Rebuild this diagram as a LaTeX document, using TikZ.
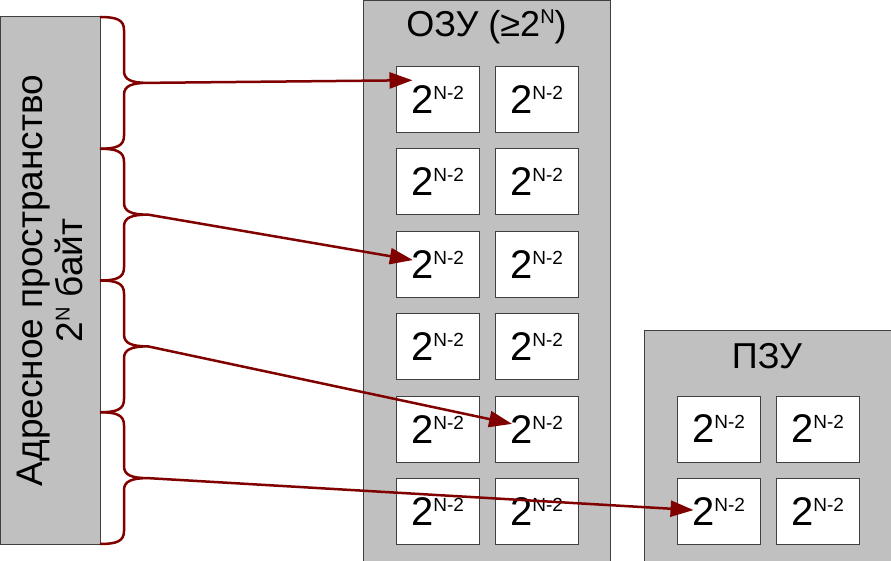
\documentclass[tikz,border=0pt]{standalone}
\usepackage{fontspec}
\setmainfont{Liberation Sans}
\usetikzlibrary{arrows.meta}

\definecolor{boxgray}{RGB}{192,192,192}
\definecolor{edgegray}{RGB}{64,64,64}
\definecolor{darkred}{RGB}{128,0,0}

% raised index: raise, size, text
\newcommand\upidx[3]{\raisebox{#1}{\fontsize{#2}{#2}\selectfont #3}}
\newcommand\blk{2\upidx{14pt}{19pt}{N-2}}

\tikzset{
  cell/.style={draw=edgegray, fill=white, line width=1pt, minimum width=83pt,
    minimum height=66pt, inner sep=0pt, font=\fontsize{40pt}{40pt}\selectfont},
  title/.style={font=\fontsize{36pt}{40pt}\selectfont, inner sep=0pt},
  store/.style={fill=boxgray, draw=edgegray, line width=1pt},
  brace/.style={darkred, line width=2.5pt},
  link/.style={darkred, line width=2.5pt, -{Triangle[length=23pt,width=16pt]},
    shorten >=25pt},
}

\begin{document}
\begin{tikzpicture}[x=1pt,y=-1pt]
\clip (0,0) rectangle (891,561);
% address space
\filldraw[store] (0,17) rectangle (100,544);
\node[rotate=90, align=center, font=\fontsize{37pt}{40pt}\selectfont] (space) at (50,280.5)
  {Адресное пространство\\2\upidx{13pt}{20pt}{N} байт};
% braces, one per quarter
\foreach \t/\n in {17/1,148.75/2,280.5/3,412.25/4} {
  \draw[brace] (100,\t) .. controls (117,\t) and (124,\t+3) .. (124,\t+13)
    -- (124,\t+54) .. controls (124,\t+63) and (132,\t+65.875) .. (148,\t+65.875)
    .. controls (132,\t+65.875) and (124,\t+68.75) .. (124,\t+77.75)
    -- (124,\t+118.75) .. controls (124,\t+128.75) and (117,\t+131.75) .. (100,\t+131.75);
  \coordinate (tip\n) at (148,\t+65.875);
}
% RAM
\filldraw[store] (363,1) rectangle (610,570);
\node[title] (ramtitle) at (486.5,27) {ОЗУ (≥2\upidx{13pt}{20pt}{N})};
\foreach \r in {1,...,6}
  \foreach \c in {1,2}
    \node[cell] (ram\r\c) at (338.5+99*\c,17.1+82.4*\r) {\blk};
% ROM
\filldraw[store] (644,330) rectangle (900,570);
\node[title] (romtitle) at (767,356) {ПЗУ};
\foreach \r in {1,2}
  \foreach \c in {1,2}
    \node[cell] (rom\r\c) at (619.5+99*\c,346.5+82.5*\r) {\blk};
% mapping
\draw[link] (tip1) -- ([yshift=19.5pt]ram11.center);
\draw[link] (tip2) -- (ram31.center);
\draw[link] (tip3) -- (ram52.center);
\draw[link] (tip4) -- (rom21.center);
\end{tikzpicture}
\end{document}
